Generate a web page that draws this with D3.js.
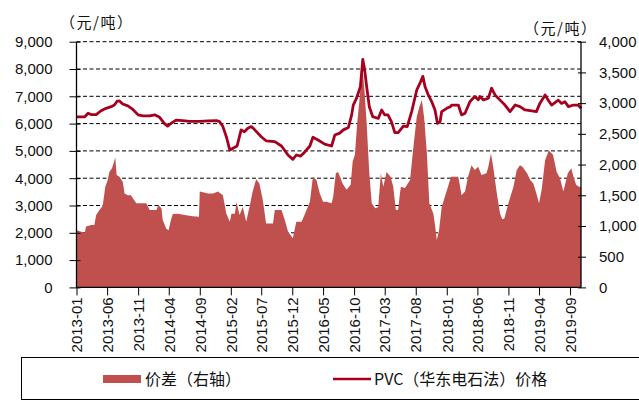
<!DOCTYPE html>
<html>
<head>
<meta charset="utf-8">
<script src="https://cdn.jsdelivr.net/npm/d3@7"></script>
<style>
  body { margin: 0; background: #fff; }
  svg { display: block; }
  .num { font-family: "Liberation Sans", Arial, sans-serif; font-size: 15px; fill: #111; }
  .cjk { font-family: "Noto Sans CJK SC", sans-serif; fill: #111; }
</style>
</head>
<body>
<svg width="639" height="403"></svg>
<script>
// PVC price (left axis), yuan/ton
const pvcSeries = [
  ["2013-01-01",6250],["2013-02-11",6250],["2013-02-27",6380],["2013-03-14",6330],["2013-04-08",6330],
  ["2013-05-02",6470],["2013-05-27",6560],["2013-06-21",6620],["2013-07-07",6680],["2013-07-20",6820],
  ["2013-08-01",6830],["2013-08-17",6720],["2013-09-11",6650],["2013-10-06",6520],["2013-11-01",6320],
  ["2013-11-25",6280],["2013-12-28",6280],["2014-01-22",6320],["2014-02-15",6230],["2014-03-10",6010],
  ["2014-03-26",5910],["2014-04-12",6010],["2014-05-07",6130],["2014-06-09",6110],["2014-07-12",6085],
  ["2014-09-01",6085],["2014-10-12",6100],["2014-11-22",6110],["2014-12-08",6070],["2014-12-24",5890],
  ["2015-01-10",5520],["2015-01-27",5030],["2015-02-12",5100],["2015-03-04",5180],["2015-03-24",5770],
  ["2015-04-09",5700],["2015-04-26",5830],["2015-05-13",5890],["2015-05-28",5790],["2015-07-01",5520],
  ["2015-07-25",5370],["2015-09-06",5340],["2015-10-09",5180],["2015-11-10",4850],["2015-12-04",4690],
  ["2015-12-21",4850],["2016-01-12",4810],["2016-02-02",4970],["2016-02-26",5180],["2016-03-12",5500],
  ["2016-04-06",5400],["2016-05-09",5250],["2016-06-12",5180],["2016-06-28",5580],["2016-07-22",5650],
  ["2016-08-09",5770],["2016-09-03",5860],["2016-09-19",6320],["2016-09-27",6680],["2016-10-13",6930],
  ["2016-11-01",7350],["2016-11-13",8350],["2016-11-21",8030],["2016-12-02",7350],["2016-12-15",6620],
  ["2017-01-01",6250],["2017-01-28",6190],["2017-02-14",6500],["2017-03-01",6320],["2017-03-17",6320],
  ["2017-04-03",6070],["2017-04-20",5670],["2017-05-06",5670],["2017-06-01",5910],["2017-06-20",5890],
  ["2017-07-12",6440],["2017-08-06",7230],["2017-08-22",7480],["2017-09-05",7730],["2017-09-16",7350],
  ["2017-10-02",7050],["2017-10-19",6800],["2017-11-04",6500],["2017-11-16",6010],["2017-11-29",6070],
  ["2017-12-07",6440],["2018-01-01",6560],["2018-01-18",6620],["2018-01-26",6680],["2018-02-27",6680],
  ["2018-03-15",6320],["2018-04-01",6380],["2018-04-25",6800],["2018-05-19",6990],["2018-06-05",6870],
  ["2018-06-13",6990],["2018-07-01",6870],["2018-07-25",6930],["2018-08-10",7300],["2018-08-27",7050],
  ["2018-09-21",6860],["2018-10-15",6680],["2018-11-09",6440],["2018-12-04",6680],["2018-12-28",6620],
  ["2019-01-22",6500],["2019-02-24",6470],["2019-03-19",6440],["2019-04-05",6740],["2019-05-01",7050],
  ["2019-05-16",6860],["2019-06-02",6680],["2019-07-05",6860],["2019-07-21",6740],["2019-08-07",6800],
  ["2019-08-24",6620],["2019-09-18",6680],["2019-10-12",6680],["2019-10-25",6560]
];

// price spread (right axis)
const spreadSeries = [
  ["2013-01-01",930],["2013-02-11",890],["2013-02-17",990],["2013-03-14",1016],["2013-03-30",1016],
  ["2013-04-08",1180],["2013-04-24",1260],["2013-05-10",1325],["2013-05-23",1640],["2013-06-04",1750],
  ["2013-06-12",1880],["2013-06-25",1940],["2013-07-03",2020],["2013-07-11",2120],["2013-07-18",1830],
  ["2013-08-01",1800],["2013-08-17",1720],["2013-08-26",1530],["2013-09-11",1500],["2013-09-27",1500],
  ["2013-10-06",1450],["2013-10-23",1370],["2013-12-11",1370],["2013-12-28",1260],["2014-01-31",1260],
  ["2014-02-08",1340],["2014-02-24",1290],["2014-03-02",1100],["2014-03-19",960],["2014-03-31",930],
  ["2014-04-12",1100],["2014-04-21",1195],["2014-05-16",1200],["2014-06-18",1180],["2014-07-28",1160],
  ["2014-08-28",1150],["2014-09-01",1560],["2014-10-12",1530],["2014-11-05",1530],["2014-11-30",1560],
  ["2014-12-24",1500],["2015-01-10",1200],["2015-01-27",1070],["2015-02-04",1200],["2015-02-21",1200],
  ["2015-03-01",1395],["2015-03-16",1180],["2015-04-01",1310],["2015-04-18",1070],["2015-05-04",1310],
  ["2015-05-20",1560],["2015-06-06",1760],["2015-06-22",1690],["2015-07-09",1420],["2015-07-25",1040],
  ["2015-08-28",1040],["2015-09-06",1260],["2015-10-09",1260],["2015-10-25",1100],["2015-11-10",910],
  ["2015-12-04",800],["2015-12-21",1070],["2016-01-16",1070],["2016-02-02",1200],["2016-02-26",1395],
  ["2016-03-12",1800],["2016-03-29",1750],["2016-04-15",1530],["2016-05-01",1395],["2016-05-18",1395],
  ["2016-06-12",1370],["2016-06-20",1480],["2016-07-03",1860],["2016-07-14",1880],["2016-08-05",1690],
  ["2016-08-25",1590],["2016-09-14",1670],["2016-09-24",2050],["2016-10-05",2160],["2016-10-16",2670],
  ["2016-10-26",3000],["2016-11-06",3400],["2016-11-13",3510],["2016-11-21",3210],["2016-12-02",2670],
  ["2016-12-15",1860],["2016-12-27",1370],["2017-01-13",1290],["2017-01-28",1310],["2017-02-10",1860],
  ["2017-02-22",1640],["2017-03-10",1880],["2017-03-30",1800],["2017-04-12",1640],["2017-04-25",1260],
  ["2017-05-06",1260],["2017-05-15",1530],["2017-05-20",1640],["2017-06-09",1620],["2017-07-04",1750],
  ["2017-07-19",2240],["2017-08-06",2780],["2017-08-19",2940],["2017-08-31",3050],["2017-09-11",2780],
  ["2017-09-25",2180],["2017-10-07",1370],["2017-10-27",1200],["2017-11-04",1016],["2017-11-13",770],
  ["2017-11-24",930],["2017-12-07",1310],["2017-12-25",1500],["2018-01-10",1670],["2018-01-22",1800],
  ["2018-02-27",1800],["2018-03-15",1500],["2018-04-01",1560],["2018-04-16",1800],["2018-05-03",1990],
  ["2018-05-19",1910],["2018-06-05",1965],["2018-06-21",1830],["2018-07-16",1860],["2018-07-25",1965],
  ["2018-08-07",2180],["2018-08-18",1965],["2018-09-05",1530],["2018-09-21",1200],["2018-10-02",1110],
  ["2018-10-12",1120],["2018-11-01",1370],["2018-11-26",1640],["2018-12-12",1910],["2018-12-28",1990],
  ["2019-01-09",1965],["2019-02-01",1860],["2019-02-17",1750],["2019-03-04",1690],["2019-03-19",1530],
  ["2019-04-01",1370],["2019-04-14",1590],["2019-05-01",2070],["2019-05-19",2230],["2019-06-09",2160],
  ["2019-06-27",1880],["2019-07-13",1780],["2019-07-30",1560],["2019-08-21",1860],["2019-09-07",1940],
  ["2019-09-18",1800],["2019-10-01",1670],["2019-10-15",1640],["2019-10-25",1640]
];

const xTickLabels = ["2013-01","2013-06","2013-11","2014-04","2014-09","2015-02","2015-07","2015-12",
  "2016-05","2016-10","2017-03","2017-08","2018-01","2018-06","2018-11","2019-04","2019-09"];
const leftTicks = [0,1000,2000,3000,4000,5000,6000,7000,8000,9000];
const rightTicks = [0,500,1000,1500,2000,2500,3000,3500,4000];
const unitLabel = "（元/吨）";
const legendLabels = ["价差（右轴）", "PVC（华东电石法）价格"];

const svg = d3.select("svg");
const parse = d3.timeParse("%Y-%m-%d");
const parseMonth = d3.timeParse("%Y-%m");

const plotLeft = 76.5, plotRight = 581, plotTop = 41.7, plotBottom = 287.4;

const x = d3.scaleTime()
  .domain([parse("2013-01-01"), parse("2019-10-25")])
  .range([plotLeft, plotRight]);
const yL = d3.scaleLinear().domain([0, 9000]).range([plotBottom, plotTop]);
const yR = d3.scaleLinear().domain([0, 4000]).range([plotBottom, plotTop]);

const pvc = pvcSeries.map(d => ({ date: parse(d[0]), v: d[1] }));
const spread = spreadSeries.map(d => ({ date: parse(d[0]), v: d[1] }));

// dashed grid
svg.append("g")
  .selectAll("line")
  .data(leftTicks.filter(d => d > 0))
  .enter().append("line")
  .attr("x1", plotLeft).attr("x2", plotRight)
  .attr("y1", d => yL(d)).attr("y2", d => yL(d))
  .attr("stroke", "#000")
  .attr("stroke-width", 1)
  .attr("stroke-dasharray", "4,2.5");

// spread area
svg.append("path")
  .datum(spread)
  .attr("fill", "#C0504D")
  .attr("d", d3.area().x(d => x(d.date)).y0(yR(0)).y1(d => yR(d.v)));

// pvc line
svg.append("path")
  .datum(pvc)
  .attr("fill", "none")
  .attr("stroke", "#A6001E")
  .attr("stroke-width", 2.8)
  .attr("stroke-linejoin", "round")
  .attr("d", d3.line().x(d => x(d.date)).y(d => yL(d.v)));

// left axis
const gL = svg.append("g").attr("transform", `translate(${plotLeft},0)`)
  .call(d3.axisLeft(yL).tickValues(leftTicks).tickSize(7).tickPadding(17).tickFormat(d3.format(",")));
gL.selectAll(".tick line").attr("x1", 4);
gL.select(".domain").attr("d", `M0,${plotTop}V${plotBottom}`).attr("stroke", "#000").attr("stroke-width", 1.3);
gL.selectAll("text").attr("class", "num").attr("font-size", null).attr("font-family", null);

// right axis
const gR = svg.append("g").attr("transform", `translate(${plotRight},0)`)
  .call(d3.axisRight(yR).tickValues(rightTicks).tickSize(5).tickPadding(13).tickFormat(d3.format(",")));
gR.selectAll(".tick line").attr("x1", -3);
gR.select(".domain").attr("d", `M0,${plotTop}V${plotBottom}`).attr("stroke", "#000").attr("stroke-width", 1.3);
gR.selectAll("text").attr("class", "num").attr("font-size", null).attr("font-family", null);

// bottom axis
const gB = svg.append("g").attr("transform", `translate(0,${plotBottom})`)
  .call(d3.axisBottom(x).tickValues(xTickLabels.map(parseMonth)).tickSize(8).tickFormat(d3.timeFormat("%Y-%m")));
gB.select(".domain").attr("d", `M${plotLeft},0H${plotRight}`).attr("stroke", "#000").attr("stroke-width", 1.3);
gB.selectAll("text")
  .attr("class", "num").attr("font-size", null).attr("font-family", null)
  .attr("transform", "rotate(-90)")
  .attr("x", -10).attr("y", 0).attr("dy", "0.35em")
  .style("text-anchor", "end");

// unit labels
svg.append("text").attr("class", "cjk").attr("x", 60).attr("y", 28)
  .style("font-size", "15px").style("letter-spacing", "1.5px").text(unitLabel);
svg.append("text").attr("class", "cjk").attr("x", 524).attr("y", 34)
  .style("font-size", "15px").style("letter-spacing", "1.5px").text(unitLabel);

// legend
svg.append("rect")
  .attr("x", 21.5).attr("y", 357.5).attr("width", 640).attr("height", 42)
  .attr("fill", "none").attr("stroke", "#000").attr("stroke-width", 1);
svg.append("rect")
  .attr("x", 103).attr("y", 375).attr("width", 38).attr("height", 8)
  .attr("fill", "#C0504D");
svg.append("text").attr("class", "cjk").attr("x", 145).attr("y", 385)
  .style("font-size", "16px").text(legendLabels[0]);
svg.append("line")
  .attr("x1", 333).attr("x2", 371).attr("y1", 379).attr("y2", 379)
  .attr("stroke", "#A6001E").attr("stroke-width", 2.6);
svg.append("text").attr("class", "cjk").attr("x", 374).attr("y", 385)
  .style("font-size", "16px").text(legendLabels[1]);
</script>
</body>
</html>
